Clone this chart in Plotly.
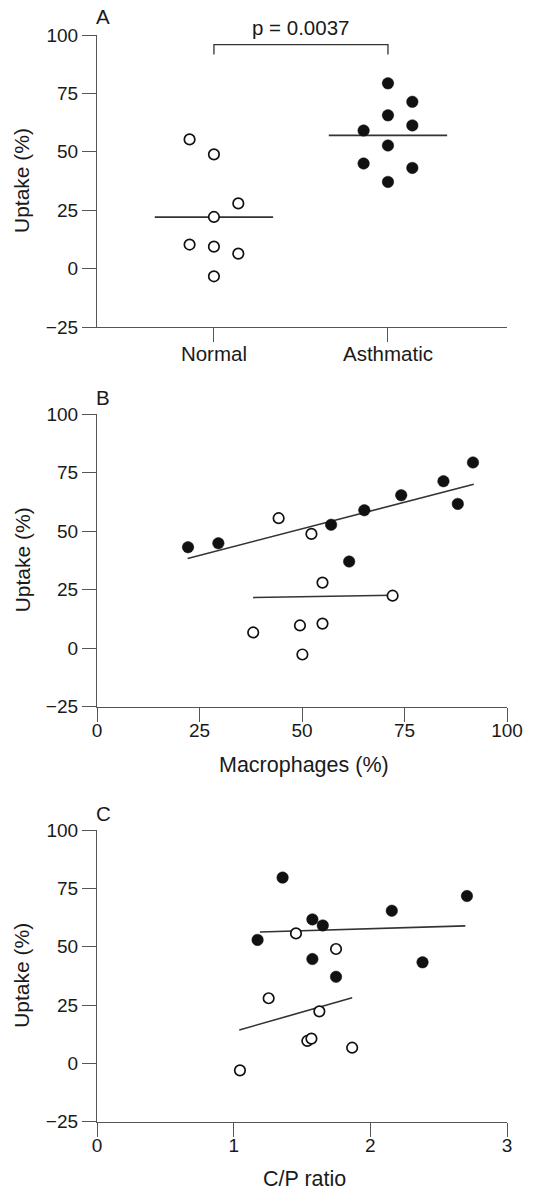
import plotly.graph_objects as go

W, H = 538, 1192

# ---------------- Data ----------------
# Panel A: uptake by group
groups = ["Normal", "Asthmatic"]
normal_uptake = [55.3, 48.9, 27.9, 22.1, 10.3, 9.4, 6.4, -3.3]
normal_offset = [-0.14, 0.0, 0.14, 0.0, -0.14, 0.0, 0.14, 0.0]
asthma_uptake = [79.3, 71.4, 65.6, 61.3, 59.1, 52.7, 45.0, 43.1, 37.1]
asthma_offset = [0.0, 0.14, 0.0, 0.14, -0.14, 0.0, -0.14, 0.14, 0.0]
group_center = [22.0, 57.0]  # horizontal lines (Normal, Asthmatic)
p_text = "p = 0.0037"
bracket_top = 95.9
bracket_bottom = 91.6

# Panel B: uptake vs macrophages
b_asthma_x = [22.2, 29.6, 57.1, 65.2, 61.5, 74.2, 84.5, 88.0, 91.7]
b_asthma_y = [43.1, 44.8, 52.7, 58.9, 37.0, 65.3, 71.3, 61.6, 79.3]
b_normal_x = [44.3, 52.3, 55.0, 72.1, 38.1, 49.5, 55.0, 50.1]
b_normal_y = [55.5, 48.8, 28.0, 22.4, 6.7, 9.7, 10.5, -2.7]
b_asthma_fit_x = [22.1, 91.9]
b_asthma_fit_y = [38.3, 70.0]
b_normal_fit_x = [38.1, 72.1]
b_normal_fit_y = [21.6, 22.6]

# Panel C: uptake vs C/P ratio
c_asthma_x = [1.358, 2.157, 2.707, 1.576, 1.652, 1.175, 1.576, 1.749, 2.382]
c_asthma_y = [79.6, 65.4, 71.7, 61.7, 59.1, 52.9, 44.7, 37.1, 43.3]
c_normal_x = [1.456, 1.749, 1.256, 1.627, 1.539, 1.569, 1.867, 1.046]
c_normal_y = [55.7, 49.0, 27.9, 22.3, 9.6, 10.6, 6.7, -3.0]
c_asthma_fit_x = [1.192, 2.695]
c_asthma_fit_y = [56.3, 58.9]
c_normal_fit_x = [1.041, 1.867]
c_normal_fit_y = [14.3, 28.1]

y_ticks = [-25, 0, 25, 50, 75, 100]
b_x_ticks = [0, 25, 50, 75, 100]
c_x_ticks = [0, 1, 2, 3]

# ---------------- Style ----------------
FONT = "Liberation Sans, Arial, Helvetica, sans-serif"
TXT = "#1a1a1a"
AX = "#555555"
LINE = "#333333"
median_half = 0.34

def py(p):  # pixel y -> paper
    return 1 - p / H

def px(p):
    return p / W

x_dom = [px(97), px(507)]
panels = {
    "A": (35, 327),
    "B": (414, 706.7),
    "C": (830, 1121.7),
}

open_marker = dict(symbol="circle", size=10.5, color="white",
                   line=dict(color="#111111", width=1.7))
fill_marker = dict(symbol="circle", size=11.5, color="#111111",
                   line=dict(color="#111111", width=0.5))

fig = go.Figure()

# Panel A: group lines first (beneath markers)
for i, c in enumerate(group_center):
    fig.add_trace(go.Scatter(
        x=[i + 1 - median_half, i + 1 + median_half], y=[c, c], mode="lines",
        line=dict(color=LINE, width=1.8), xaxis="x", yaxis="y",
        showlegend=False))
fig.add_trace(go.Scatter(
    x=[1 + o for o in normal_offset], y=normal_uptake, mode="markers",
    marker=open_marker, xaxis="x", yaxis="y", showlegend=False))
fig.add_trace(go.Scatter(
    x=[2 + o for o in asthma_offset], y=asthma_uptake, mode="markers",
    marker=fill_marker, xaxis="x", yaxis="y", showlegend=False))

fig.add_shape(type="path", xref="x", yref="y",
              path=f"M 1,{bracket_bottom} L 1,{bracket_top} L 2,{bracket_top} L 2,{bracket_bottom}",
              line=dict(color=LINE, width=1.3))

# Panel B
fig.add_trace(go.Scatter(x=b_asthma_fit_x, y=b_asthma_fit_y, mode="lines",
                         line=dict(color=LINE, width=1.6), xaxis="x2", yaxis="y2", showlegend=False))
fig.add_trace(go.Scatter(x=b_normal_fit_x, y=b_normal_fit_y, mode="lines",
                         line=dict(color=LINE, width=1.6), xaxis="x2", yaxis="y2", showlegend=False))
fig.add_trace(go.Scatter(x=b_asthma_x, y=b_asthma_y, mode="markers",
                         marker=fill_marker, xaxis="x2", yaxis="y2", showlegend=False))
fig.add_trace(go.Scatter(x=b_normal_x, y=b_normal_y, mode="markers",
                         marker=open_marker, xaxis="x2", yaxis="y2", showlegend=False))

# Panel C
fig.add_trace(go.Scatter(x=c_asthma_fit_x, y=c_asthma_fit_y, mode="lines",
                         line=dict(color=LINE, width=1.6), xaxis="x3", yaxis="y3", showlegend=False))
fig.add_trace(go.Scatter(x=c_normal_fit_x, y=c_normal_fit_y, mode="lines",
                         line=dict(color=LINE, width=1.6), xaxis="x3", yaxis="y3", showlegend=False))
fig.add_trace(go.Scatter(x=c_asthma_x, y=c_asthma_y, mode="markers",
                         marker=fill_marker, xaxis="x3", yaxis="y3", showlegend=False))
fig.add_trace(go.Scatter(x=c_normal_x, y=c_normal_y, mode="markers",
                         marker=open_marker, xaxis="x3", yaxis="y3", showlegend=False))

axis_common = dict(showline=True, linecolor=AX, linewidth=1.2, ticks="outside",
                   ticklen=14, tickwidth=1.2, tickcolor=AX, showgrid=False,
                   zeroline=False, automargin=False,
                   tickfont=dict(family=FONT, size=19, color=TXT))
x_extra = dict(ticklabelstandoff=-8)

def ydom(key):
    top, bot = panels[key]
    return [py(bot), py(top)]

fig.update_layout(
    width=W, height=H, margin=dict(l=0, r=0, t=0, b=0),
    paper_bgcolor="white", plot_bgcolor="white",
    font=dict(family=FONT, color=TXT),
    xaxis=dict(domain=x_dom, range=[0.328, 2.684], tickvals=[1, 2], ticktext=groups,
               anchor="y", tickfont=dict(family=FONT, size=20.5, color=TXT),
               ticklabelstandoff=-6,
               **{k: v for k, v in axis_common.items() if k != "tickfont"}),
    yaxis=dict(domain=ydom("A"), range=[-25, 100], tickvals=y_ticks, anchor="x", **axis_common),
    xaxis2=dict(domain=x_dom, range=[0, 100], tickvals=b_x_ticks, anchor="y2", **x_extra, **axis_common),
    yaxis2=dict(domain=ydom("B"), range=[-25, 100], tickvals=y_ticks, anchor="x2", **axis_common),
    xaxis3=dict(domain=x_dom, range=[0, 3], tickvals=c_x_ticks, anchor="y3", **x_extra, **axis_common),
    yaxis3=dict(domain=ydom("C"), range=[-25, 100], tickvals=y_ticks, anchor="x3", **axis_common),
)

ann = []
def add_text(text, x, y, size, angle=0, xanchor="center"):
    ann.append(dict(text=text, x=px(x), y=py(y), xref="paper", yref="paper",
                    showarrow=False, xanchor=xanchor, yanchor="middle",
                    textangle=angle, font=dict(family=FONT, size=size, color=TXT)))

for key, letter_y in zip(["A", "B", "C"], [17, 397, 813]):
    add_text(key, 103, letter_y, 20.5)
    top, bot = panels[key]
    add_text("Uptake (%)", 22, (top + bot) / 2, 21, angle=-90)

add_text(p_text, 300, 27, 20.5)
add_text("Macrophages (%)", 304, 765, 21.5)
add_text("C/P ratio", 304, 1179, 21.5)
fig.update_layout(annotations=ann)

fig.write_html("out.html", config={"displayModeBar": False},
               post_script="document.body.style.margin='0';document.body.style.overflow='hidden';")
